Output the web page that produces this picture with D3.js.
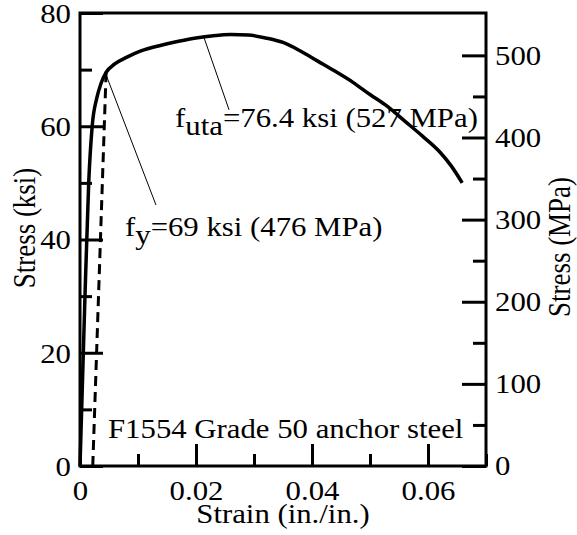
<!DOCTYPE html>
<html><head><meta charset="utf-8">
<script src="https://cdn.jsdelivr.net/npm/d3@7"></script>
<style>body{margin:0;background:#fff}svg{display:block}
svg text{font-family:"Liberation Serif","Tinos","Times New Roman","Times","Nimbus Roman","Noto Serif","DejaVu Serif",serif !important;fill:#000}</style>
</head><body><svg id="c" width="577" height="535"></svg>
<script>
// ---- data ----
const strain = [0, 0.0008, 0.0015, 0.0021, 0.0029, 0.0036, 0.0045, 0.006, 0.0081, 0.0105, 0.014, 0.017, 0.020, 0.023, 0.026, 0.029, 0.032, 0.035, 0.038, 0.041, 0.044, 0.047, 0.050, 0.053, 0.056, 0.059, 0.062, 0.064, 0.0659];
const stress = [0, 28, 50, 60, 65, 67.5, 69.5, 71, 72.2, 73.3, 74.3, 75.0, 75.6, 76.0, 76.2, 76.1, 75.6, 74.8, 73.3, 71.5, 69.7, 67.8, 65.6, 63.5, 60.9, 58.3, 55.5, 53.0, 50.0];
const offsetStrain = [0.0022, 0.0045];
const offsetStress = [0, 69.5];
const ksiTicks = [0, 20, 40, 60, 80];
const ksiMinor = [10, 30, 50, 70];
const mpaTicks = [0, 100, 200, 300, 400, 500];
const mpaMinor = [50, 150, 250, 350, 450];
const strainTicks = [0, 0.02, 0.04, 0.06];
const strainMinor = [0.01, 0.03, 0.05, 0.07];
const KSI_PER_MPA = 0.145038;
// annotations (data units)
const yieldLeader = [[0.0043, 69.6], [0.0131, 46.1]];
const utaLeader = [[0.0214, 75.6], [0.0257, 62.9]];
const yieldLabel = {x: 0.00776, y: 40.6, sub: "y", rest: "=69 ksi (476 MPa)"};
const utaLabel = {x: 0.0164, y: 59.8, sub: "uta", rest: "=76.4 ksi (527 MPa)"};
const noteText = "F1554 Grade 50 anchor steel";
const notePos = {x: 0.00483, y: 4.95};

// ---- layout ----
const L = 80, R = 486, T = 13, B = 466, FS = 27, SX = 1.14;
const FONT = '"Liberation Serif","Tinos","Times New Roman","Times","Nimbus Roman","Noto Serif","DejaVu Serif",serif';
const svg = d3.select("#c");
const x = d3.scaleLinear([0, 0.07], [L, R]);
const y = d3.scaleLinear([0, 80], [B, T]);
const yM = d3.scaleLinear([0, 80 / KSI_PER_MPA], [B, T]);

function stretchText(sel) {
  sel.selectAll("text").each(function () {
    const t = d3.select(this);
    const tx = +t.attr("x") || 0, ty = +t.attr("y") || 0;
    t.attr("x", 0).attr("y", 0).attr("transform", `translate(${tx},${ty}) scale(${SX},1)`);
  });
}
function styleAxis(g) {
  g.attr("font-family", null).attr("font-size", null);
  g.select(".domain").remove();
  g.selectAll("line").attr("stroke", "#000").attr("stroke-width", 3);
  g.selectAll("text").attr("font-size", FS).style("font-family", FONT).attr("fill", "#000");
}

// curve
const line = d3.line().x((d, i) => x(strain[i])).y((d, i) => y(stress[i])).curve(d3.curveMonotoneX);
svg.append("path").attr("d", line(stress)).attr("fill", "none").attr("stroke", "#000").attr("stroke-width", 3.5).attr("stroke-linejoin", "round");
// offset
svg.append("path").attr("d", d3.line().x((d, i) => x(offsetStrain[i])).y(d => y(d))(offsetStress))
  .attr("fill", "none").attr("stroke", "#000").attr("stroke-width", 3).attr("stroke-dasharray", "10,6");

// leaders
[yieldLeader, utaLeader].forEach(p => {
  svg.append("line").attr("x1", x(p[0][0])).attr("y1", y(p[0][1])).attr("x2", x(p[1][0])).attr("y2", y(p[1][1]))
    .attr("stroke", "#000").attr("stroke-width", 1);
});

// axes
const gl = svg.append("g").attr("transform", `translate(${L},0)`)
  .call(d3.axisLeft(y).tickValues(ksiTicks).tickSizeInner(-23).tickSizeOuter(0).tickPadding(9).tickFormat(d => String(d)));
gl.selectAll("text").attr("dy", "0.35em");
styleAxis(gl); stretchText(gl);
const glm = svg.append("g").attr("transform", `translate(${L},0)`)
  .call(d3.axisLeft(y).tickValues(ksiMinor).tickSizeInner(-12).tickSizeOuter(0).tickFormat(""));
styleAxis(glm);

const gr = svg.append("g").attr("transform", `translate(${R},0)`)
  .call(d3.axisRight(yM).tickValues(mpaTicks).tickSizeInner(-24).tickSizeOuter(0).tickPadding(9).tickFormat(d => String(d)));
gr.selectAll("text").attr("dy", "0.33em");
styleAxis(gr); stretchText(gr);
const grm = svg.append("g").attr("transform", `translate(${R},0)`)
  .call(d3.axisRight(yM).tickValues(mpaMinor).tickSizeInner(-13).tickSizeOuter(0).tickFormat(""));
styleAxis(grm);

const gb = svg.append("g").attr("transform", `translate(0,${B})`)
  .call(d3.axisBottom(x).tickValues(strainTicks).tickSizeInner(-22).tickSizeOuter(0).tickPadding(15).tickFormat(d => String(d)));
styleAxis(gb); stretchText(gb);
const gbm = svg.append("g").attr("transform", `translate(0,${B})`)
  .call(d3.axisBottom(x).tickValues(strainMinor).tickSizeInner(-12).tickSizeOuter(0).tickFormat(""));
styleAxis(gbm);

// frame
svg.append("rect").attr("x", L).attr("y", T).attr("width", R - L).attr("height", B - T)
  .attr("fill", "none").attr("stroke", "#000").attr("stroke-width", 3);

// titles
function txt(px, py, s, anchor, rot) {
  return svg.append("text").attr("transform", `translate(${px},${py}) scale(${SX},1)` + (rot ? " rotate(-90)" : ""))
    .attr("text-anchor", anchor).attr("font-size", FS).style("font-family", FONT).text(s);
}
txt((L + R) / 2, 523, "Strain (in./in.)", "middle", false);
txt(35, 228, "Stress (ksi)", "middle", true);
txt(570, 247, "Stress (MPa)", "middle", true);

// annotation labels
[yieldLabel, utaLabel].forEach(a => {
  const t = svg.append("text").attr("transform", `translate(${x(a.x)},${y(a.y)}) scale(${SX},1)`).attr("font-size", FS).style("font-family", FONT);
  t.append("tspan").text("f");
  t.append("tspan").attr("dy", 8).text(a.sub);
  t.append("tspan").attr("dy", -8).text(a.rest);
});
txt(x(notePos.x), y(notePos.y), noteText, "start", false);
</script></body></html>
